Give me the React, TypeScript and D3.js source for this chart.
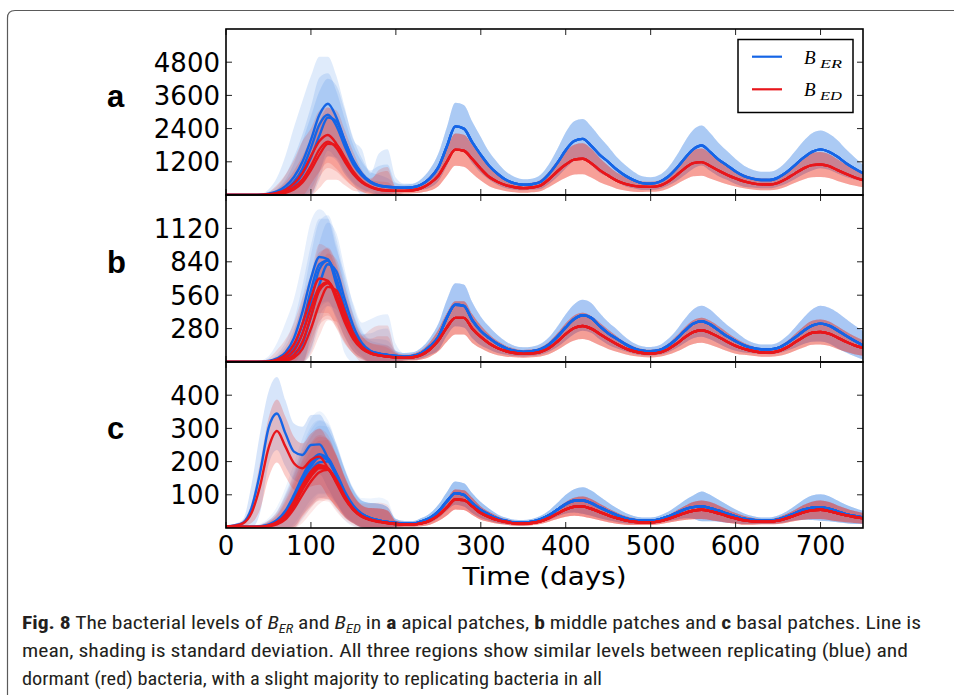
import React, { useEffect, useRef } from "react";
import * as d3 from "d3";

// ---------- DATA ----------
const TIMES = [0, 10, 20, 30, 40, 50, 60, 70, 80, 90, 100, 110, 120, 130, 140, 150, 160, 170, 180, 190,
  200, 210, 220, 230, 240, 250, 260, 270, 280, 290, 300, 310, 320, 330, 340, 350, 360, 370, 380, 390,
  400, 410, 420, 430, 440, 450, 460, 470, 480, 490, 500, 510, 520, 530, 540, 550, 560, 570, 580, 590,
  600, 610, 620, 630, 640, 650, 660, 670, 680, 690, 700, 710, 720, 730, 740, 750];
const X_TICKS = [0, 100, 200, 300, 400, 500, 600, 700];
const PANEL_LABELS = ["a", "b", "c"];
const Y_MAX = [6000, 1400, 500];
const Y_TICKS = [[1200, 2400, 3600, 4800], [280, 560, 840, 1120], [100, 200, 300, 400]];
const LEGEND_LABELS = [["B", "ER"], ["B", "ED"]];

// Panel a (apical) — main run, full length
const A_BLUE_MEAN = [0, 0, 0, 0, 5, 30, 90, 220, 480, 950,
  1700, 2550, 2900, 2500, 1750, 1100, 700, 450, 330, 290,
  270, 260, 280, 380, 600, 1000, 1750, 2480, 2400, 1900,
  1450, 1050, 760, 540, 420, 370, 390, 470, 750, 1150,
  1620, 1950, 2030, 1780, 1450, 1200, 920, 700, 540, 430,
  410, 470, 650, 950, 1320, 1650, 1790, 1560, 1280, 1070,
  850, 680, 590, 540, 540, 630, 820, 1080, 1350, 1560,
  1650, 1560, 1380, 1150, 960, 790];
const A_BLUE_SD = [0, 0, 0, 0, 10, 80, 220, 500, 900, 1250,
  1500, 1700, 1500, 1250, 1000, 700, 500, 380, 400, 320,
  150, 120, 130, 200, 330, 500, 700, 850, 850, 750,
  650, 500, 400, 300, 230, 200, 200, 250, 350, 500,
  650, 720, 720, 700, 650, 550, 450, 380, 300, 250,
  230, 250, 320, 450, 600, 700, 720, 680, 600, 520,
  450, 380, 320, 300, 300, 320, 400, 500, 600, 670,
  680, 650, 600, 500, 400, 300];
const A_RED_MEAN = [0, 0, 0, 0, 3, 15, 50, 120, 280, 560,
  1050, 1650, 1930, 1700, 1200, 750, 450, 280, 190, 160,
  150, 150, 170, 250, 420, 700, 1200, 1640, 1600, 1300,
  950, 650, 470, 350, 280, 250, 270, 340, 560, 850,
  1100, 1280, 1310, 1150, 900, 700, 520, 400, 330, 300,
  295, 330, 470, 700, 960, 1150, 1190, 1050, 880, 730,
  600, 490, 420, 385, 380, 440, 590, 780, 960, 1080,
  1100, 1040, 900, 760, 640, 540];
const A_RED_SD = [0, 0, 0, 0, 10, 50, 150, 350, 600, 850,
  1000, 1000, 950, 850, 650, 450, 320, 250, 300, 300,
  120, 100, 110, 160, 260, 380, 500, 580, 580, 520,
  430, 330, 260, 210, 180, 170, 170, 200, 280, 390,
  480, 540, 560, 520, 440, 360, 290, 240, 210, 190,
  180, 190, 240, 320, 410, 470, 490, 450, 390, 340,
  290, 250, 220, 210, 210, 230, 280, 340, 400, 440,
  450, 430, 390, 340, 300, 260];
// Panel a — other runs, first 250 days (they follow the main run afterwards)
const A_BLUE_MEAN_2 = [0, 0, 0, 0, 8, 45, 130, 320, 650, 1200, 2000, 2900, 3300, 2800, 1950, 1200, 750, 480, 350, 300, 275, 262, 280, 380, 600, 1000];
const A_BLUE_SD_2 = [0, 0, 0, 0, 20, 150, 500, 1100, 1800, 2200, 2300, 2100, 1700, 1500, 1200, 800, 900, 300, 1150, 1350, 350, 150, 130, 200, 330, 500];
const A_BLUE_MEAN_3 = [0, 0, 0, 0, 0, 15, 60, 150, 350, 750, 1350, 2150, 2800, 2650, 1950, 1250, 780, 490, 350, 300, 275, 262, 280, 380, 600, 1000];
const A_BLUE_SD_3 = [0, 0, 0, 0, 0, 40, 150, 400, 800, 1200, 1500, 1600, 1400, 1300, 1100, 800, 550, 400, 700, 800, 180, 120, 130, 200, 330, 500];
const A_RED_MEAN_2 = [0, 0, 0, 0, 5, 25, 80, 190, 420, 800, 1400, 1950, 2170, 1850, 1300, 800, 480, 300, 200, 165, 150, 150, 170, 250, 420, 700];
const A_RED_SD_2 = [0, 0, 0, 0, 15, 80, 280, 550, 850, 1150, 1000, 1100, 1000, 900, 700, 500, 350, 250, 700, 850, 150, 100, 110, 160, 260, 380];
const A_RED_MEAN_3 = [0, 0, 0, 0, 0, 8, 30, 80, 200, 450, 900, 1450, 1850, 1800, 1350, 850, 500, 300, 200, 165, 150, 150, 170, 250, 420, 700];
const A_RED_SD_3 = [0, 0, 0, 0, 0, 30, 100, 250, 450, 700, 1000, 1200, 1300, 1250, 1000, 700, 400, 300, 600, 700, 130, 100, 110, 160, 260, 380];

// Panel b (middle)
const B_BLUE_MEAN = [0, 0, 0, 0, 0, 2, 10, 30, 90, 240,
  500, 780, 850, 700, 450, 250, 140, 90, 70, 60,
  50, 45, 50, 75, 130, 210, 370, 480, 470, 350,
  260, 200, 150, 115, 92, 85, 90, 106, 145, 210,
  290, 360, 392, 370, 300, 240, 195, 150, 115, 95,
  90, 100, 135, 190, 260, 320, 342, 315, 265, 215,
  175, 140, 118, 107, 106, 118, 155, 205, 260, 305,
  322, 305, 265, 220, 178, 140];
const B_BLUE_SD = [0, 0, 0, 0, 0, 5, 25, 70, 160, 300,
  400, 400, 380, 330, 250, 160, 110, 90, 90, 80,
  40, 30, 32, 45, 70, 110, 150, 180, 180, 150,
  120, 95, 75, 55, 42, 38, 38, 45, 60, 85,
  110, 125, 130, 125, 110, 95, 80, 60, 45, 38,
  36, 40, 55, 75, 100, 120, 130, 125, 110, 95,
  80, 60, 45, 40, 40, 45, 60, 85, 110, 135,
  150, 150, 150, 140, 130, 120];
const B_RED_MEAN = [0, 0, 0, 0, 0, 1, 6, 20, 60, 170,
  380, 600, 660, 560, 370, 210, 120, 75, 55, 45,
  38, 35, 40, 60, 105, 180, 290, 370, 370, 280,
  210, 155, 115, 90, 75, 68, 72, 84, 115, 170,
  235, 285, 302, 280, 235, 190, 150, 115, 90, 75,
  70, 78, 105, 150, 205, 250, 266, 245, 210, 170,
  135, 110, 92, 80, 78, 90, 120, 165, 210, 245,
  252, 238, 205, 170, 140, 118];
const B_RED_SD = [0, 0, 0, 0, 0, 4, 20, 55, 130, 220,
  260, 290, 300, 270, 210, 140, 100, 85, 85, 75,
  35, 25, 28, 38, 60, 90, 120, 140, 140, 120,
  95, 75, 58, 45, 36, 32, 32, 38, 50, 70,
  90, 105, 110, 105, 95, 80, 65, 50, 40, 34,
  32, 35, 45, 65, 85, 100, 105, 100, 90, 78,
  65, 50, 40, 35, 35, 40, 52, 70, 88, 100,
  105, 102, 95, 85, 75, 65];
const B_BLUE_MEAN_2 = [0, 0, 0, 0, 2, 8, 30, 80, 200, 420, 700, 880, 860, 650, 400, 230, 130, 88, 70, 60, 50, 45, 50, 75, 130, 210];
const B_BLUE_SD_2 = [0, 0, 0, 0, 8, 40, 130, 250, 330, 420, 480, 400, 350, 300, 330, 260, 200, 270, 320, 340, 100, 30, 32, 45, 70, 110];
const B_BLUE_MEAN_3 = [0, 0, 0, 0, 0, 3, 15, 45, 130, 320, 600, 820, 850, 680, 430, 240, 135, 90, 70, 60, 50, 45, 50, 75, 130, 210];
const B_BLUE_SD_3 = [0, 0, 0, 0, 0, 10, 50, 120, 220, 320, 380, 380, 350, 300, 220, 150, 100, 150, 200, 220, 45, 30, 32, 45, 70, 110];
const B_BLUE_MEAN_4 = [0, 0, 0, 0, 0, 1, 4, 15, 50, 150, 380, 650, 820, 760, 520, 300, 160, 95, 72, 60, 50, 45, 50, 75, 130, 210];
const B_BLUE_SD_4 = [0, 0, 0, 0, 0, 3, 15, 45, 100, 200, 300, 350, 350, 320, 250, 170, 110, 100, 120, 120, 45, 30, 32, 45, 70, 110];
const B_RED_MEAN_2 = [0, 0, 0, 0, 1, 5, 20, 60, 150, 320, 540, 700, 680, 520, 330, 190, 110, 72, 55, 45, 38, 35, 40, 60, 105, 180];
const B_RED_SD_2 = [0, 0, 0, 0, 5, 25, 80, 130, 180, 220, 200, 290, 270, 240, 180, 120, 110, 200, 250, 260, 50, 25, 28, 38, 60, 90];
const B_RED_MEAN_3 = [0, 0, 0, 0, 0, 2, 10, 35, 100, 240, 450, 630, 670, 560, 360, 200, 115, 75, 55, 45, 38, 35, 40, 60, 105, 180];
const B_RED_SD_3 = [0, 0, 0, 0, 0, 8, 35, 90, 170, 240, 280, 290, 280, 250, 190, 130, 90, 120, 160, 170, 40, 25, 28, 38, 60, 90];
const B_RED_MEAN_4 = [0, 0, 0, 0, 0, 1, 3, 10, 35, 110, 280, 490, 630, 600, 420, 240, 130, 80, 57, 46, 38, 35, 40, 60, 105, 180];
const B_RED_SD_4 = [0, 0, 0, 0, 0, 3, 12, 35, 80, 150, 220, 270, 280, 260, 210, 150, 95, 80, 90, 90, 38, 25, 28, 38, 60, 90];

// Panel c (basal)
const C_BLUE_MEAN = [4, 3, 3, 3, 4, 8, 18, 42, 85, 140,
  185, 212, 205, 160, 105, 65, 42, 30, 23, 18,
  15, 13, 13, 20, 30, 50, 80, 105, 100, 75,
  54, 40, 28, 21, 17, 16, 19, 26, 38, 55,
  72, 82, 83, 75, 62, 50, 39, 30, 24, 22,
  22, 26, 34, 45, 56, 63, 65, 60, 52, 43,
  35, 28, 24, 22, 22, 26, 34, 45, 55, 61,
  62, 58, 50, 42, 36, 32];
const C_BLUE_SD = [3, 2, 2, 3, 6, 14, 30, 60, 80, 100,
  110, 110, 105, 90, 70, 50, 40, 45, 50, 45,
  12, 8, 8, 10, 14, 20, 28, 35, 35, 30,
  24, 18, 13, 10, 8, 8, 8, 10, 14, 20,
  28, 35, 40, 38, 33, 27, 21, 16, 12, 10,
  10, 11, 14, 20, 27, 35, 45, 40, 33, 27,
  21, 16, 12, 10, 10, 12, 16, 22, 30, 37,
  40, 38, 33, 28, 24, 20];
const C_RED_MEAN = [4, 3, 3, 3, 3, 6, 14, 32, 68, 115,
  155, 180, 178, 140, 92, 56, 35, 25, 19, 15,
  12, 11, 11, 14, 22, 38, 62, 86, 84, 65,
  45, 33, 24, 18, 14, 13, 15, 20, 30, 43,
  56, 64, 65, 58, 48, 38, 30, 23, 19, 17,
  17, 20, 27, 36, 45, 52, 55, 51, 44, 36,
  29, 23, 20, 19, 19, 22, 29, 38, 47, 53,
  55, 51, 44, 38, 33, 29];
const C_RED_SD = [3, 2, 2, 2, 5, 12, 25, 50, 70, 85,
  95, 95, 90, 78, 60, 42, 33, 35, 40, 38,
  10, 7, 7, 9, 12, 17, 24, 30, 30, 26,
  20, 15, 11, 8, 7, 7, 7, 8, 11, 16,
  22, 27, 30, 29, 25, 21, 17, 13, 10, 8,
  8, 9, 11, 16, 21, 26, 28, 27, 24, 20,
  16, 13, 10, 8, 8, 10, 13, 17, 22, 26,
  28, 27, 24, 21, 18, 16];
const C_BLUE_MEAN_E = [5, 8, 16, 60, 165, 300, 345, 285, 230, 220, 250, 252, 210, 160, 105, 65, 42, 30, 23, 18, 15, 13, 13, 20, 30, 50];
const C_BLUE_SD_E = [2, 4, 10, 70, 120, 110, 110, 100, 85, 85, 90, 90, 90, 85, 70, 50, 40, 45, 50, 45, 12, 8, 8, 10, 14, 20];
const C_RED_MEAN_E = [5, 7, 14, 45, 125, 240, 292, 245, 195, 180, 205, 215, 180, 140, 92, 56, 35, 25, 19, 15, 12, 11, 11, 14, 22, 38];
const C_RED_SD_E = [2, 4, 8, 30, 70, 90, 95, 90, 80, 75, 80, 85, 85, 78, 60, 42, 33, 35, 40, 38, 10, 7, 7, 9, 12, 17];
const C_BLUE_MEAN_2 = [4, 3, 3, 3, 5, 10, 24, 52, 100, 155, 200, 222, 205, 155, 100, 62, 40, 29, 22, 18, 15, 13, 13, 20, 30, 50];
const C_BLUE_SD_2 = [3, 2, 2, 3, 8, 20, 40, 70, 95, 115, 130, 130, 120, 100, 78, 58, 50, 60, 70, 65, 12, 8, 8, 10, 14, 20];
const C_BLUE_MEAN_3 = [4, 3, 3, 3, 4, 7, 14, 34, 72, 125, 172, 198, 200, 165, 110, 68, 43, 30, 23, 18, 15, 13, 13, 20, 30, 50];
const C_BLUE_MEAN_4 = [4, 3, 3, 3, 4, 9, 20, 46, 92, 148, 195, 215, 210, 162, 104, 64, 41, 30, 23, 18, 15, 13, 13, 20, 30, 50];
const C_RED_MEAN_2 = [4, 3, 3, 3, 3, 8, 18, 40, 80, 130, 170, 190, 180, 135, 88, 54, 34, 24, 18, 15, 12, 11, 11, 14, 22, 38];
const C_RED_SD_2 = [3, 2, 2, 2, 6, 15, 32, 58, 80, 95, 105, 108, 100, 85, 65, 47, 40, 50, 58, 55, 10, 7, 7, 9, 12, 17];
const C_RED_MEAN_3 = [4, 3, 3, 3, 3, 5, 11, 26, 58, 100, 140, 168, 175, 145, 96, 58, 36, 25, 19, 15, 12, 11, 11, 14, 22, 38];
const C_RED_MEAN_4 = [4, 3, 3, 3, 3, 7, 16, 36, 74, 122, 162, 185, 178, 138, 90, 55, 35, 25, 19, 15, 12, 11, 11, 14, 22, 38];

// ---------- STYLE / LAYOUT ----------
const W = 954, H = 695;
const PX0 = 226, PX1 = 863;
const PANEL_TOPS = [29, 195, 362];
const PANEL_BOTTOMS = [195, 362, 528];
const BLUE_LINE = "#1565e6";
const RED_LINE = "#e8161b";
const BLUE_FILL = "#1f6fe2";
const RED_FILL = "#ec2a1e";
const TICK_FONT = "'DejaVu Sans', 'Bitstream Vera Sans', sans-serif";

// early-run arrays continue with the main run after day 250
const join = (early: number[], main: number[]) => early.concat(main.slice(early.length));

type Run = { bm: number[]; bs: number[]; rm: number[]; rs: number[]; alpha: number };

const PANEL_RUNS: Run[][] = [
  [
    { bm: A_BLUE_MEAN, bs: A_BLUE_SD, rm: A_RED_MEAN, rs: A_RED_SD, alpha: 0.14 },
    { bm: join(A_BLUE_MEAN_2, A_BLUE_MEAN), bs: join(A_BLUE_SD_2, A_BLUE_SD), rm: join(A_RED_MEAN_2, A_RED_MEAN), rs: join(A_RED_SD_2, A_RED_SD), alpha: 0.14 },
    { bm: join(A_BLUE_MEAN_3, A_BLUE_MEAN), bs: join(A_BLUE_SD_3, A_BLUE_SD), rm: join(A_RED_MEAN_3, A_RED_MEAN), rs: join(A_RED_SD_3, A_RED_SD), alpha: 0.14 },
  ],
  [
    { bm: B_BLUE_MEAN, bs: B_BLUE_SD, rm: B_RED_MEAN, rs: B_RED_SD, alpha: 0.11 },
    { bm: join(B_BLUE_MEAN_2, B_BLUE_MEAN), bs: join(B_BLUE_SD_2, B_BLUE_SD), rm: join(B_RED_MEAN_2, B_RED_MEAN), rs: join(B_RED_SD_2, B_RED_SD), alpha: 0.11 },
    { bm: join(B_BLUE_MEAN_3, B_BLUE_MEAN), bs: join(B_BLUE_SD_3, B_BLUE_SD), rm: join(B_RED_MEAN_3, B_RED_MEAN), rs: join(B_RED_SD_3, B_RED_SD), alpha: 0.11 },
    { bm: join(B_BLUE_MEAN_4, B_BLUE_MEAN), bs: join(B_BLUE_SD_4, B_BLUE_SD), rm: join(B_RED_MEAN_4, B_RED_MEAN), rs: join(B_RED_SD_4, B_RED_SD), alpha: 0.11 },
  ],
  [
    { bm: join(C_BLUE_MEAN_E, C_BLUE_MEAN), bs: join(C_BLUE_SD_E, C_BLUE_SD), rm: join(C_RED_MEAN_E, C_RED_MEAN), rs: join(C_RED_SD_E, C_RED_SD), alpha: 0.18 },
    { bm: C_BLUE_MEAN, bs: C_BLUE_SD, rm: C_RED_MEAN, rs: C_RED_SD, alpha: 0.08 },
    { bm: join(C_BLUE_MEAN_2, C_BLUE_MEAN), bs: join(C_BLUE_SD_2, C_BLUE_SD), rm: join(C_RED_MEAN_2, C_RED_MEAN), rs: join(C_RED_SD_2, C_RED_SD), alpha: 0.08 },
    { bm: join(C_BLUE_MEAN_3, C_BLUE_MEAN), bs: C_BLUE_SD, rm: join(C_RED_MEAN_3, C_RED_MEAN), rs: C_RED_SD, alpha: 0.08 },
    { bm: join(C_BLUE_MEAN_4, C_BLUE_MEAN), bs: C_BLUE_SD, rm: join(C_RED_MEAN_4, C_RED_MEAN), rs: C_RED_SD, alpha: 0.08 },
  ],
];

export default function App() {
  const ref = useRef<SVGGElement | null>(null);

  useEffect(() => {
    const svg = d3.select(ref.current);
    svg.selectAll("*").remove();

    const x = d3.scaleLinear().domain([0, 750]).range([PX0, PX1]);

    // outer frame
    svg.append("path")
      .attr("d", `M7.5,${H} L7.5,18 Q7.5,10.5 15,10.5 L${W},10.5`)
      .attr("fill", "none").attr("stroke", "#5a5a5a").attr("stroke-width", 1.2);

    const defs = svg.append("defs");

    PANEL_RUNS.forEach((runs, pi) => {
      const top = PANEL_TOPS[pi], bottom = PANEL_BOTTOMS[pi];
      const y = d3.scaleLinear().domain([0, Y_MAX[pi]]).range([bottom, top]);
      const clipId = `clip${pi}`;
      defs.append("clipPath").attr("id", clipId)
        .append("rect").attr("x", PX0).attr("y", top).attr("width", PX1 - PX0).attr("height", bottom - top);
      const g = svg.append("g").attr("clip-path", `url(#${clipId})`);

      const area = (m: number[], s: number[]) =>
        d3.area<number>()
          .x((_, i) => x(TIMES[i]))
          .y0((_, i) => y(Math.max(0, m[i] - s[i])))
          .y1((_, i) => y(m[i] + s[i]))
          .curve(d3.curveMonotoneX)(m);
      const line = (m: number[]) =>
        d3.line<number>()
          .x((_, i) => x(TIMES[i]))
          .y((d) => y(d))
          .curve(d3.curveMonotoneX)(m);

      runs.forEach((r) => {
        g.append("path").attr("d", area(r.bm, r.bs)!).attr("fill", BLUE_FILL).attr("fill-opacity", r.alpha);
      });
      runs.forEach((r) => {
        g.append("path").attr("d", area(r.rm, r.rs)!).attr("fill", RED_FILL).attr("fill-opacity", r.alpha * 1.3);
      });
      runs.forEach((r) => {
        g.append("path").attr("d", line(r.bm)!).attr("fill", "none").attr("stroke", BLUE_LINE).attr("stroke-width", 2.4);
      });
      runs.forEach((r) => {
        g.append("path").attr("d", line(r.rm)!).attr("fill", "none").attr("stroke", RED_LINE).attr("stroke-width", 2.4);
      });

      // ticks (inward, all four sides)
      const tg = svg.append("g").attr("stroke", "#222").attr("stroke-width", 1);
      X_TICKS.forEach((t) => {
        tg.append("line").attr("x1", x(t)).attr("x2", x(t)).attr("y1", bottom).attr("y2", bottom - 6);
        tg.append("line").attr("x1", x(t)).attr("x2", x(t)).attr("y1", top).attr("y2", top + 6);
      });
      Y_TICKS[pi].forEach((v) => {
        tg.append("line").attr("x1", PX0).attr("x2", PX0 + 6).attr("y1", y(v)).attr("y2", y(v));
        tg.append("line").attr("x1", PX1 - 6).attr("x2", PX1).attr("y1", y(v)).attr("y2", y(v));
        svg.append("text").attr("x", 220).attr("y", y(v)).attr("dy", "0.36em")
          .attr("text-anchor", "end").attr("font-family", TICK_FONT).attr("font-size", 26)
          .attr("fill", "#000").text(String(v));
      });

      // frame
      svg.append("rect").attr("x", PX0).attr("y", top).attr("width", PX1 - PX0).attr("height", bottom - top)
        .attr("fill", "none").attr("stroke", "#000").attr("stroke-width", 1.6);

      // panel letter
      svg.append("text").attr("x", 107).attr("y", [107, 273, 439][pi])
        .attr("font-family", "'Liberation Sans', Arial, sans-serif").attr("font-weight", "bold")
        .attr("font-size", 31).attr("fill", "#000").text(PANEL_LABELS[pi]);
    });

    // x tick labels
    X_TICKS.forEach((t) => {
      svg.append("text").attr("x", x(t)).attr("y", 555).attr("text-anchor", "middle")
        .attr("font-family", TICK_FONT).attr("font-size", 26).attr("fill", "#000").text(String(t));
    });
    svg.append("text").attr("x", (PX0 + PX1) / 2).attr("y", 585).attr("text-anchor", "middle")
      .attr("font-family", TICK_FONT).attr("font-size", 25).attr("fill", "#000")
      .attr("textLength", 164).attr("lengthAdjust", "spacingAndGlyphs").text("Time (days)");

    // legend
    const lg = svg.append("g");
    lg.append("rect").attr("x", 738).attr("y", 39.5).attr("width", 115).attr("height", 73)
      .attr("fill", "#fff").attr("stroke", "#000").attr("stroke-width", 1.5);
    [BLUE_LINE, RED_LINE].forEach((c, i) => {
      const ly = [56.7, 89.3][i];
      lg.append("line").attr("x1", 752).attr("x2", 782).attr("y1", ly).attr("y2", ly)
        .attr("stroke", c).attr("stroke-width", 2.2);
      lg.append("text").attr("x", 804).attr("y", ly + 7).attr("font-family", "'Liberation Serif', 'DejaVu Serif', serif")
        .attr("font-style", "italic").attr("font-size", 19).attr("fill", "#000").text(LEGEND_LABELS[i][0]);
      lg.append("text").attr("x", 820).attr("y", ly + 11).attr("font-family", "'Liberation Serif', 'DejaVu Serif', serif")
        .attr("font-style", "italic").attr("font-size", 13).attr("fill", "#000")
        .attr("textLength", 22).attr("lengthAdjust", "spacingAndGlyphs").text(LEGEND_LABELS[i][1]);
    });
  }, []);

  const capFont = "'Liberation Sans Narrow', 'Roboto Condensed', Roboto, 'Liberation Sans', sans-serif";
  const capColor = "#231f20";
  const sub = (s: string) => (
    <>
      <tspan fontStyle="italic">B</tspan>
      <tspan fontStyle="italic" fontSize={12} dy={4}>{s}</tspan>
      <tspan dy={-4}> </tspan>
    </>
  );

  return (
    <svg width={W} height={H} style={{ position: "fixed", left: 0, top: 0, background: "#fff" }}>
      <g ref={ref} />
      <g fontFamily={capFont} fontSize={18} fill={capColor}>
        <text x={22} y={629} textLength={899} lengthAdjust="spacingAndGlyphs">
          <tspan fontWeight="bold">Fig. 8</tspan>
          <tspan>{"  The bacterial levels of "}</tspan>
          {sub("ER")}
          <tspan>and </tspan>
          {sub("ED")}
          <tspan>in </tspan>
          <tspan fontWeight="bold">a</tspan>
          <tspan>{" apical patches, "}</tspan>
          <tspan fontWeight="bold">b</tspan>
          <tspan>{" middle patches and "}</tspan>
          <tspan fontWeight="bold">c</tspan>
          <tspan>{" basal patches. Line is"}</tspan>
        </text>
        <text x={22} y={657} textLength={886} lengthAdjust="spacingAndGlyphs">
          mean, shading is standard deviation. All three regions show similar levels between replicating (blue) and
        </text>
        <text x={22} y={685} textLength={580} lengthAdjust="spacingAndGlyphs">
          dormant (red) bacteria, with a slight majority to replicating bacteria in all
        </text>
      </g>
    </svg>
  );
}
